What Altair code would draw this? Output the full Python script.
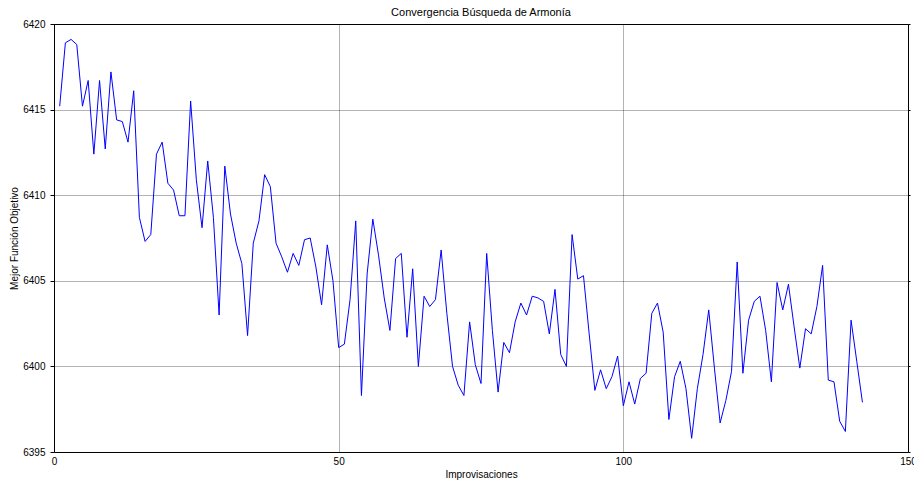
import altair as alt
import pandas as pd

iterations = list(range(1, 143))
best_values = [
    6415.2, 6418.9, 6419.1, 6418.8, 6415.2, 6416.7, 6412.4, 6416.7, 6412.7, 6417.2,
    6414.4, 6414.3, 6413.1, 6416.1, 6408.7, 6407.3, 6407.7, 6412.4, 6413.1, 6410.7,
    6410.3, 6408.8, 6408.8, 6415.5, 6410.9, 6408.1, 6412.0, 6408.7, 6403.0, 6411.7,
    6408.9, 6407.2, 6406.0, 6401.8, 6407.2, 6408.5, 6411.2, 6410.5, 6407.2, 6406.4,
    6405.5, 6406.6, 6405.9, 6407.4, 6407.5, 6405.8, 6403.6, 6407.1, 6405.0, 6401.1,
    6401.3, 6403.9, 6408.5, 6398.3, 6405.4, 6408.6, 6406.5, 6404.0, 6402.1, 6406.3,
    6406.6, 6401.7, 6405.7, 6400.0, 6404.1, 6403.5, 6403.9, 6406.8, 6403.1, 6400.0,
    6398.9, 6398.3, 6402.6, 6400.1, 6399.0, 6406.6, 6402.1, 6398.5, 6401.4, 6400.8,
    6402.6, 6403.7, 6403.0, 6404.1, 6404.0, 6403.8, 6401.9, 6404.5, 6400.7, 6400.0,
    6407.7, 6405.1, 6405.3, 6401.9, 6398.6, 6399.8, 6398.7, 6399.4, 6400.6, 6397.7,
    6399.1, 6397.8, 6399.3, 6399.6, 6403.1, 6403.7, 6402.0, 6396.9, 6399.4, 6400.3,
    6398.7, 6395.8, 6398.7, 6400.7, 6403.3, 6399.9, 6396.7, 6398.0, 6399.7, 6406.1,
    6399.6, 6402.7, 6403.8, 6404.1, 6402.1, 6399.1, 6404.9, 6403.3, 6404.8, 6402.3,
    6399.9, 6402.2, 6401.9, 6403.5, 6405.9, 6399.2, 6399.1, 6396.8, 6396.2, 6402.7,
    6400.3, 6397.9,
]
x_ticks = [0, 50, 100, 150]
y_ticks = [6395, 6400, 6405, 6410, 6415, 6420]

df = pd.DataFrame({"it": iterations, "val": best_values})

FONT = "Liberation Sans"

x_enc = alt.X(
    "it:Q",
    scale=alt.Scale(domain=[0, 150], nice=False, zero=False),
    axis=alt.Axis(
        values=x_ticks,
        title="Improvisaciones",
        labelFlush=False,
        labelOverlap=False,
        labelPadding=4,
        titlePadding=3,
    ),
)
y_scale = alt.Scale(domain=[6395, 6420], nice=False, zero=False)

main = (
    alt.Chart(df)
    .mark_line(color="#0000ff", strokeWidth=1, clip=True)
    .encode(
        x=x_enc,
        y=alt.Y(
            "val:Q",
            scale=y_scale,
            axis=alt.Axis(
                values=y_ticks,
                title="Mejor Función Objetivo",
                labelOverlap=False,
                ticks=True,
                tickSize=4,
                tickColor="#000",
                labelPadding=5,
                titlePadding=3,
                format="d",
            ),
        ),
    )
)

right = (
    alt.Chart(df)
    .mark_line(opacity=0, clip=True)
    .encode(
        x=x_enc,
        y=alt.Y(
            "val:Q",
            scale=y_scale,
            axis=alt.Axis(
                orient="right",
                values=y_ticks,
                title=None,
                labels=False,
                grid=False,
                ticks=True,
                tickSize=2,
                tickColor="#000",
            ),
        ),
    )
)

chart = (
    alt.layer(main, right)
    .resolve_scale(y="independent")
    .properties(
        width=854,
        height=428,
        title=alt.TitleParams(
            "Convergencia Búsqueda de Armonía",
            fontSize=11,
            fontWeight="normal",
            font=FONT,
            color="#000",
            offset=6,
            dy=5,
        ),
        autosize=alt.AutoSizeParams(type="none"),
        padding={"left": 54, "top": 24, "right": 6, "bottom": 29},
    )
    .configure_view(stroke="#000", strokeWidth=1)
    .configure_axis(
        labelFont=FONT,
        titleFont=FONT,
        labelFontSize=10,
        titleFontSize=10,
        titleFontWeight="normal",
        labelColor="#000",
        titleColor="#000",
        ticks=False,
        domain=False,
        grid=True,
        gridColor="#000",
        gridDash=[1, 1],
        gridOpacity=0.6,
        gridWidth=1,
    )
)

chart.save("out.html", embed_options={"renderer": "svg", "actions": False})
